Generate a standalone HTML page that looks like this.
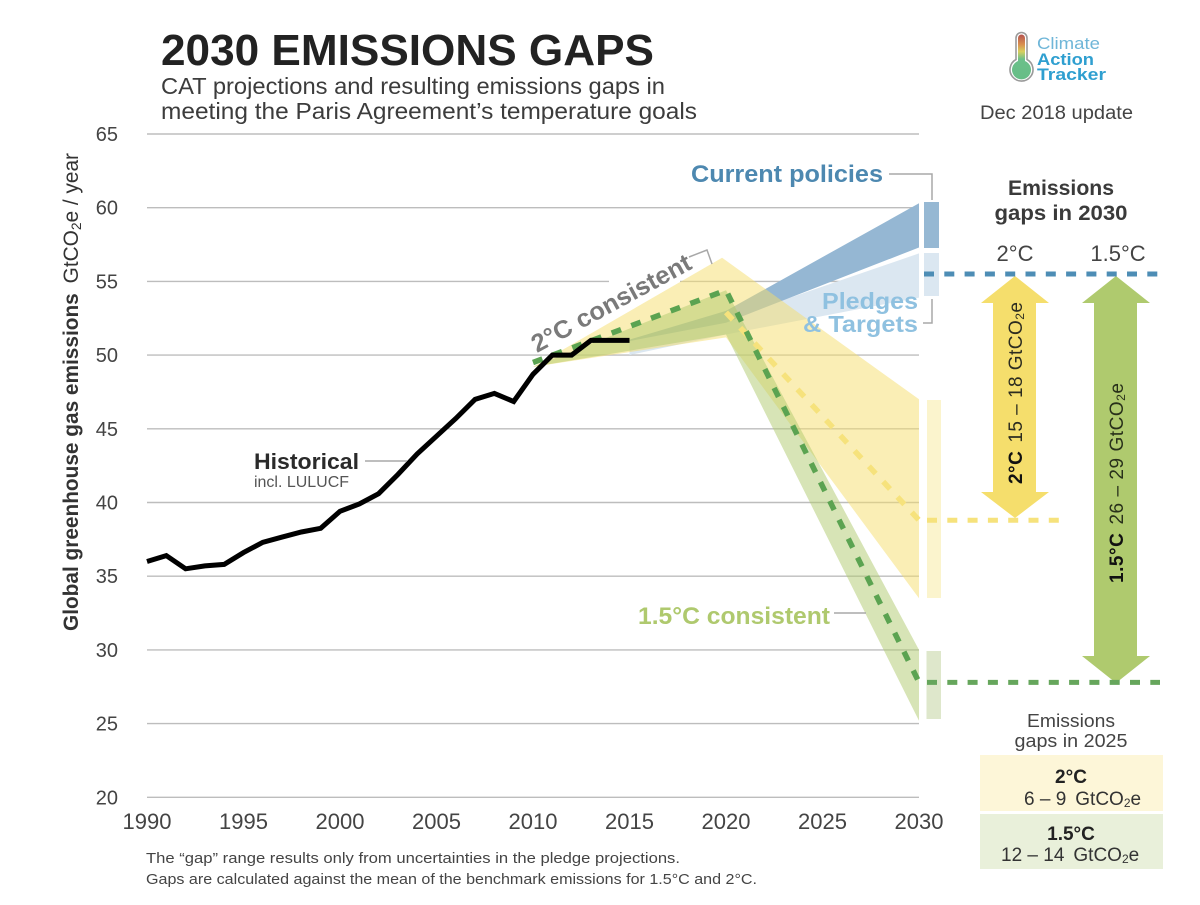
<!DOCTYPE html>
<html lang="en">
<head>
<meta charset="utf-8">
<title>2030 Emissions Gaps</title>
<style>
html,body{margin:0;padding:0;background:#fff;width:1200px;height:905px;overflow:hidden}
svg{display:block;font-family:"Liberation Sans","DejaVu Sans",sans-serif}
</style>
</head>
<body>
<svg id="chart" xmlns="http://www.w3.org/2000/svg" width="1200" height="905" viewBox="0 0 1200 905">
  <defs>
    <linearGradient id="thermo" x1="0" y1="0" x2="0" y2="1">
      <stop offset="0" stop-color="#b5534f"/><stop offset="0.22" stop-color="#d98f50"/>
      <stop offset="0.38" stop-color="#d8cf5e"/><stop offset="0.55" stop-color="#6cc08a"/>
      <stop offset="1" stop-color="#66bd86"/>
    </linearGradient>
  </defs>

  <g id="grid"></g>
  <g id="bands"></g>
  <g id="lines"></g>
  <g id="xticks"></g>
  <g id="yticks"></g>

  <text x="161" y="65" font-size="44" font-weight="700" fill="#222" textLength="493" lengthAdjust="spacingAndGlyphs">2030 EMISSIONS GAPS</text>
  <text x="161" y="94" font-size="23" fill="#3c3c3c" textLength="504" lengthAdjust="spacingAndGlyphs">CAT projections and resulting emissions gaps in</text>
  <text x="161" y="119" font-size="23" fill="#3c3c3c" textLength="536" lengthAdjust="spacingAndGlyphs">meeting the Paris Agreement’s temperature goals</text>

  <g>
    <path d="M1016 38a5.500 5.500 0 0 1 11 0v21.500a11.500 11.500 0 1 1-11 0z" fill="#fff" stroke="#9a9a9a" stroke-width="1.600"/>
    <path d="M1018 38a3.500 3.500 0 0 1 7 0v23a9.500 9.500 0 1 1-7 0z" fill="url(#thermo)"/>
    <text x="1037" y="49" font-size="17" fill="#6fb6d8" textLength="63" lengthAdjust="spacingAndGlyphs">Climate</text>
    <text x="1037" y="65" font-size="17" font-weight="700" fill="#2f9fd0" textLength="57" lengthAdjust="spacingAndGlyphs">Action</text>
    <text x="1037" y="80" font-size="17" font-weight="700" fill="#2f9fd0" textLength="69" lengthAdjust="spacingAndGlyphs">Tracker</text>
  </g>
  <text x="980" y="119" font-size="19" fill="#444" textLength="153" lengthAdjust="spacingAndGlyphs">Dec 2018 update</text>

  <text transform="translate(78,631) rotate(-90)" font-size="21" fill="#333" textLength="478" lengthAdjust="spacingAndGlyphs"><tspan font-weight="700">Global greenhouse gas emissions</tspan><tspan dx="10">GtCO</tspan><tspan font-size="14" dy="3">2</tspan><tspan dy="-3">e / year</tspan></text>

  <g fill="none" stroke="#a8a8a8" stroke-width="1.500">
    <path d="M889 174H932V200"/>
    <path d="M923 323H932V299"/>
    <path d="M689 257L707 250L712 264"/>
    <path d="M365 461H407"/>
    <path d="M834 613H866"/>
  </g>

  <text x="691" y="182" font-size="24" font-weight="700" fill="#4d88b0" textLength="192" lengthAdjust="spacingAndGlyphs">Current policies</text>
  <text x="822" y="309" font-size="23" font-weight="700" fill="#8fc1e0" textLength="96" lengthAdjust="spacingAndGlyphs">Pledges</text>
  <text x="803" y="332" font-size="23" font-weight="700" fill="#8fc1e0" textLength="115" lengthAdjust="spacingAndGlyphs">&amp; Targets</text>
  <text transform="translate(537,353) rotate(-28.500)" font-size="25" font-weight="700" fill="#7a7a7a" textLength="178" lengthAdjust="spacingAndGlyphs">2°C consistent</text>
  <text x="638" y="624" font-size="24" font-weight="700" fill="#afc96e" textLength="192" lengthAdjust="spacingAndGlyphs">1.5°C consistent</text>
  <text x="254" y="469" font-size="22" font-weight="700" fill="#2a2a2a" textLength="105" lengthAdjust="spacingAndGlyphs">Historical</text>
  <text x="254" y="487" font-size="15.500" fill="#555" textLength="95" lengthAdjust="spacingAndGlyphs">incl. LULUCF</text>

  <g>
    <rect x="924" y="202" width="15" height="46" fill="#96b8d3"/>
    <rect x="924" y="253" width="15" height="43" fill="#dbe7f1"/>
    <rect x="927" y="400" width="14" height="198" fill="#fbf4cd"/>
    <rect x="926.500" y="651" width="14.500" height="68" fill="#dee7cb"/>
  </g>

  <text x="1061" y="195" text-anchor="middle" font-size="21.500" font-weight="700" fill="#3a3a3a" textLength="106" lengthAdjust="spacingAndGlyphs">Emissions</text>
  <text x="1061" y="220" text-anchor="middle" font-size="21.500" font-weight="700" fill="#3a3a3a" textLength="133" lengthAdjust="spacingAndGlyphs">gaps in 2030</text>
  <text x="1015" y="261" text-anchor="middle" font-size="22" fill="#444">2°C</text>
  <text x="1118" y="261" text-anchor="middle" font-size="22" fill="#444">1.5°C</text>

  <path d="M1015 276L1049 303H1036V492H1049L1015 518L981 492H993V303H981Z" fill="#f5de6c"/>
  <path d="M1116 276L1150 303H1137V656H1150L1116 683L1082 656H1094V303H1082Z" fill="#afca6e"/>

  <text transform="translate(1022,484) rotate(-90)" font-size="19" fill="#2c2c20" textLength="182" lengthAdjust="spacing"><tspan font-weight="700" fill="#111">2°C</tspan><tspan dx="8">15 – 18 GtCO</tspan><tspan font-size="12" dy="2">2</tspan><tspan dy="-2">e</tspan></text>
  <text transform="translate(1123,583) rotate(-90)" font-size="19" fill="#28301a" textLength="200" lengthAdjust="spacing"><tspan font-weight="700" fill="#111">1.5°C</tspan><tspan dx="8">26 – 29 GtCO</tspan><tspan font-size="12" dy="2">2</tspan><tspan dy="-2">e</tspan></text>

  <g id="gapLines"></g>

  <text x="1071" y="727" text-anchor="middle" font-size="18" fill="#444" textLength="88" lengthAdjust="spacingAndGlyphs">Emissions</text>
  <text x="1071" y="747" text-anchor="middle" font-size="18" fill="#444" textLength="113" lengthAdjust="spacingAndGlyphs">gaps in 2025</text>
  <rect x="980" y="755" width="183" height="56" fill="#fdf6d8"/>
  <rect x="980" y="814" width="183" height="55" fill="#e9f0da"/>
  <text x="1071" y="783" text-anchor="middle" font-size="19" font-weight="700" fill="#222">2°C</text>
  <text x="1024" y="805" font-size="19" fill="#333">6 – 9<tspan dx="9">GtCO</tspan><tspan font-size="12" dy="2">2</tspan><tspan dy="-2">e</tspan></text>
  <text x="1071" y="840" text-anchor="middle" font-size="19" font-weight="700" fill="#222">1.5°C</text>
  <text x="1001" y="861" font-size="19" fill="#333">12 – 14<tspan dx="9">GtCO</tspan><tspan font-size="12" dy="2">2</tspan><tspan dy="-2">e</tspan></text>

  <text x="146" y="863" font-size="15" fill="#444" textLength="534" lengthAdjust="spacingAndGlyphs">The “gap” range results only from uncertainties in the pledge projections.</text>
  <text x="146" y="884" font-size="15" fill="#444" textLength="611" lengthAdjust="spacingAndGlyphs">Gaps are calculated against the mean of the benchmark emissions for 1.5°C and 2°C.</text>
</svg>

<script>
// Axis ticks
const xTickLabels = [1990, 1995, 2000, 2005, 2010, 2015, 2020, 2025, 2030];
const yTickLabels = [65, 60, 55, 50, 45, 40, 35, 30, 25, 20];

// Historical emissions (GtCO2e / year)
const historicalYears = [1990,1991,1992,1993,1994,1995,1996,1997,1998,1999,2000,2001,2002,2003,2004,2005,2006,2007,2008,2009,2010,2011,2012,2013,2014,2015];
const historicalValues = [36.0,36.4,35.5,35.7,35.8,36.6,37.3,37.65,38.0,38.25,39.4,39.9,40.6,41.9,43.3,44.5,45.7,47.0,47.4,46.85,48.7,50.0,50.0,51.0,51.0,51.0];

// Scenario bands
const twoDegYears = [2010, 2019.8, 2030];
const twoDegHigh = [49.2, 56.6, 47.0];
const twoDegLowYears = [2010, 2020, 2030];
const twoDegLow = [49.2, 51.2, 33.5];

const oneFiveYears = [2010, 2020, 2030];
const oneFiveHigh = [49.2, 54.4, 30.0];
const oneFiveLowYears = [2010, 2020, 2030];
const oneFiveLow = [49.2, 51.4, 25.2];

const policyYears = [2015, 2020, 2030];
const policyHigh = [51.05, 53.0, 60.3];
const policyLow = [50.95, 52.2, 57.3];

const pledgeYears = [2015, 2020, 2030];
const pledgeHigh = [51.0, 52.4, 56.9];
const pledgeLow = [50.0, 51.4, 53.9];

// Mean benchmark pathways
const twoDegMeanYears = [2020, 2030];
const twoDegMeanValues = [52.9, 38.8];
const oneFiveMeanYears = [2010, 2020, 2030];
const oneFiveMeanValues = [49.5, 54.4, 27.8];

// Reference levels in the gap panel
const pledgeMeanLevel = 55.5;
const twoDegLevel = 38.8;
const oneFiveLevel = 27.8;

const SVGNS = 'http://www.w3.org/2000/svg';
function xScale(year) { return 147 + (year - 1990) * 19.3; }
function yScale(v) { return 134 + (65 - v) * 14.74; }
function make(tag, parent, attrs) {
  const el = document.createElementNS(SVGNS, tag);
  for (const k in attrs) el.setAttribute(k, attrs[k]);
  parent.appendChild(el);
  return el;
}
function toPts(years, vals) { return years.map((y, i) => xScale(y).toFixed(1) + ',' + yScale(vals[i]).toFixed(1)); }

// Gridlines and tick labels
const grid = document.getElementById('grid');
const yticks = document.getElementById('yticks');
yTickLabels.forEach(function (t) {
  const yy = yScale(t);
  const ln = make('line', grid, { x1: 147, x2: 919, y1: yy, y2: yy, stroke: '#bdbdbd', 'stroke-width': 1.4 });
  
  
  const lb = make('text', yticks, { x: 118, y: yy + 7, 'text-anchor': 'end', 'font-size': 20, fill: '#444' });
  
  
  lb.textContent = t;
});
const xticks = document.getElementById('xticks');
xTickLabels.forEach(function (t) {
  const lb = make('text', xticks, { x: xScale(t), y: 829, 'text-anchor': 'middle', 'font-size': 22, fill: '#444' });
  
  
  lb.textContent = t;
});

// White mask behind the rotated label where it interrupts the 55 gridline
const gridGap = make('rect', grid, { x: 609, y: yScale(55) - 2, width: 71, height: 4, fill: '#fff' });



// Bands
const bands = document.getElementById('bands');
function band(hy, hv, ly, lv, fill, opacity) {
  const pts = toPts(hy, hv).concat(toPts(ly, lv).reverse()).join(' ');
  return make('polygon', bands, { points: pts, fill: fill, 'fill-opacity': opacity });
}
const pledgeBand = band(pledgeYears, pledgeHigh, pledgeYears, pledgeLow, '#dbe7f1', 1);


const policyBand = band(policyYears, policyHigh, policyYears, policyLow, '#95b7d3', 1);


const twoBand = band(twoDegYears, twoDegHigh, twoDegLowYears, twoDegLow, '#f5de6c', 0.5);


const oneBand = band(oneFiveYears, oneFiveHigh, oneFiveLowYears, oneFiveLow, '#afca6e', 0.5);



// Lines
const lines = document.getElementById('lines');
const yellowMean = make('polyline', lines, {
  points: toPts(twoDegMeanYears, twoDegMeanValues).join(' '),
  fill: 'none', stroke: '#f6e27c', 'stroke-width': 5.5, 'stroke-dasharray': '10 11'
});


const greenMean = make('polyline', lines, {
  points: toPts(oneFiveMeanYears, oneFiveMeanValues).join(' '),
  fill: 'none', stroke: '#5ba351', 'stroke-width': 5.5, 'stroke-dasharray': '10 11'
});


const hist = make('polyline', lines, {
  points: toPts(historicalYears, historicalValues).join(' '),
  fill: 'none', stroke: '#000', 'stroke-width': 5, 'stroke-linejoin': 'miter'
});



// Gap reference lines
const gapLines = document.getElementById('gapLines');
const gl1 = make('line', gapLines, { x1: 924, x2: 1160, y1: yScale(pledgeMeanLevel), y2: yScale(pledgeMeanLevel), stroke: '#4d8db5', 'stroke-width': 5, 'stroke-dasharray': '10 10.300' });


const gl2 = make('line', gapLines, { x1: 927, x2: 1060, y1: yScale(twoDegLevel), y2: yScale(twoDegLevel), stroke: '#f6e27c', 'stroke-width': 5, 'stroke-dasharray': '10 10.300' });


const gl3 = make('line', gapLines, { x1: 927, x2: 1160, y1: yScale(oneFiveLevel), y2: yScale(oneFiveLevel), stroke: '#66a65c', 'stroke-width': 5, 'stroke-dasharray': '10 10.300' });


</script>
</body>
</html>
